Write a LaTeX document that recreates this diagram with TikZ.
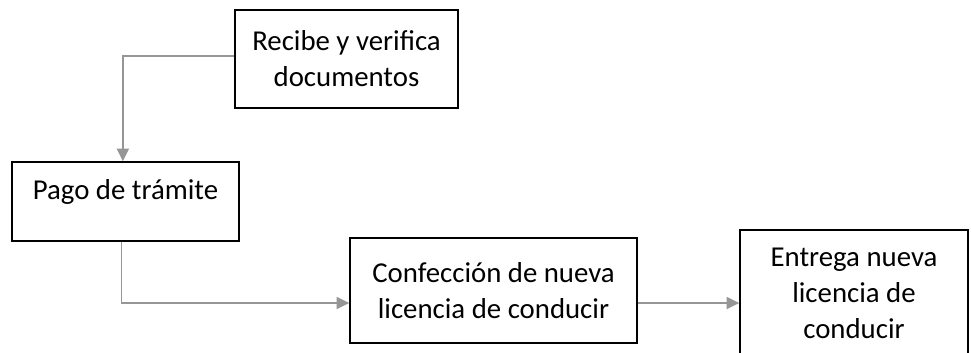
\documentclass[tikz,border=0pt]{standalone}
\usepackage{fontspec}
\setmainfont{Carlito}
\usetikzlibrary{arrows.meta}
\definecolor{conngray}{RGB}{150,150,150}
\begin{document}
\begin{tikzpicture}[x=0.75pt,y=-0.75pt,
  box/.style={draw=black, line width=1.1pt, inner sep=0pt, font=\fontsize{21.6}{27}\selectfont},
  conn/.style={draw=conngray, line width=1.3pt, -{Triangle[length=9.5pt,width=9pt,fill=conngray]}}]
\useasboundingbox (0,0) rectangle (971,353);
\clip (0,0) rectangle (971,353);
\node[box, align=center, minimum width=167.25pt, minimum height=73.5pt] (b1) at (346.5,59) {Recibe y verifica\\documentos};
\node[box, minimum width=170.25pt, text height=27.75pt, text depth=31.5pt] (b2) at (125.5,201.5) {Pago de trámite};
\node[box, align=center, minimum width=215.25pt, minimum height=78.75pt] (b3) at (493.5,290.5) {Confección de nueva\\licencia de conducir};
\node[box, align=center, minimum width=171pt, minimum height=94.5pt] (b4) at (854,293) {Entrega nueva\\licencia de\\conducir};
\coordinate (j3w) at ([yshift=-9.4pt]b3.west);
\coordinate (j3e) at ([yshift=-9.4pt]b3.east);
\draw[conn] ([yshift=2pt]b1.west) -| ([xshift=-2pt]b2.north);
\draw[conn] ([xshift=-3pt]b2.south) |- (j3w);
\draw[conn] (j3e) -- (j3e -| b4.west);
\end{tikzpicture}
\end{document}
